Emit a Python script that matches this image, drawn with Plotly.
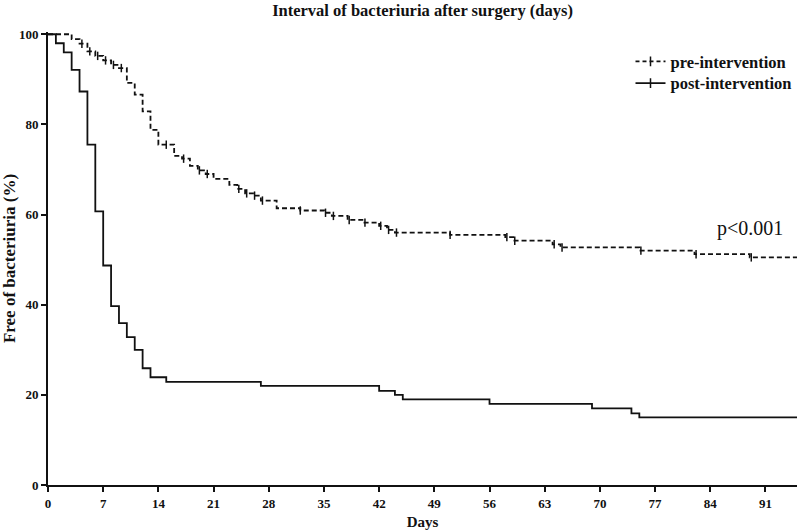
import plotly.graph_objects as go

# Kaplan-Meier style step data (days, % free of bacteriuria)
pre_days = [0, 3, 4, 5, 6, 7, 8, 9, 10, 11, 12, 13, 14, 16, 17, 18, 19, 20, 21, 23, 24, 25, 26, 27,
            29, 32, 35, 36, 38, 40, 42, 43, 44, 51, 58, 59, 64, 65, 75, 82, 89, 95]
pre_vals = [100, 98.9, 97.9, 96.2, 95.2, 94.2, 93.2, 92.5, 89.2, 86.6, 82.9, 78.8, 75.5, 73.0, 72.4,
            70.8, 69.8, 69.0, 67.9, 66.6, 65.7, 64.7, 64.2, 63.1, 61.4, 60.9, 60.4, 59.7, 58.8, 58.2,
            57.5, 56.6, 56.0, 55.5, 55.0, 54.2, 53.4, 52.7, 52.0, 51.2, 50.5, 50.5]

post_days = [0, 1, 2, 3, 4, 5, 6, 7, 8, 9, 10, 11, 12, 13, 15, 27, 42, 44, 45, 56, 69, 74, 75, 95]
post_vals = [100, 98.0, 96.0, 92.1, 87.3, 75.5, 60.7, 48.7, 39.7, 35.9, 32.8, 30.0, 25.9, 23.9,
             22.9, 22.0, 20.9, 20.0, 19.0, 18.0, 17.0, 15.9, 15.0, 15.0]

# censoring marks on the pre-intervention curve
pre_censor_days = [4.3, 5.3, 6.3, 7.3, 8.3, 9.3, 15.0, 17.2, 19.2, 20.2, 24.2, 25.2, 26.2, 27.2,
                   32.0, 35.2, 36.2, 38.2, 40.2, 42.2, 43.2, 44.2, 51.0, 58.2, 59.2, 64.2, 65.2,
                   75.2, 82.2, 89.2]

x_ticks = [0, 7, 14, 21, 28, 35, 42, 49, 56, 63, 70, 77, 84, 91]
y_ticks = [0, 20, 40, 60, 80, 100]

title_text = "Interval of bacteriuria after surgery (days)"
x_title = "Days"
y_title = "Free of bacteriuria (%)"
names = ["pre-intervention", "post-intervention"]
p_text = "p<0.001"


def step_value(days, vals, d):
    v = vals[0]
    for dd, vv in zip(days, vals):
        if dd <= d:
            v = vv
    return v


pre_censor_vals = [step_value(pre_days, pre_vals, d) for d in pre_censor_days]

INK = "#111111"
FONT = "Liberation Serif"

fig = go.Figure()
fig.add_trace(go.Scatter(x=pre_days, y=pre_vals, mode="lines", line_shape="hv",
                         line=dict(color=INK, width=1.8, dash="5px,3px"), showlegend=False,
                         hoverinfo="skip"))
fig.add_trace(go.Scatter(x=pre_censor_days, y=pre_censor_vals, mode="markers",
                         marker=dict(symbol="line-ns", size=6, line=dict(color=INK, width=1.5)),
                         showlegend=False, hoverinfo="skip"))
fig.add_trace(go.Scatter(x=post_days, y=post_vals, mode="lines", line_shape="hv",
                         line=dict(color=INK, width=1.8), showlegend=False, hoverinfo="skip"))

# legend entries (one legend each, to place them precisely)
fig.add_trace(go.Scatter(x=[None], y=[None], mode="lines+markers", name=names[0], legend="legend",
                         line=dict(color=INK, width=1.8, dash="4px,3px"),
                         marker=dict(symbol="line-ns", size=7, line=dict(color=INK, width=1.5))))
fig.add_trace(go.Scatter(x=[None], y=[None], mode="lines+markers", name=names[1], legend="legend2",
                         line=dict(color=INK, width=1.8),
                         marker=dict(symbol="line-ns", size=7, line=dict(color=INK, width=1.5))))

fig.add_annotation(text=p_text, xref="paper", yref="paper", x=0.937, y=0.567,
                   showarrow=False, font=dict(family=FONT, size=20, color=INK),
                   xanchor="center", yanchor="middle")

axis_common = dict(showline=True, linecolor=INK, linewidth=2, ticks="outside", ticklen=5,
                   tickwidth=1.5, tickcolor=INK, showgrid=False, zeroline=False,
                   automargin=False,
                   tickfont=dict(family=FONT, size=13, color=INK, weight="bold"))

legend_common = dict(xanchor="left", yanchor="middle", bgcolor="rgba(0,0,0,0)",
                     font=dict(family=FONT, size=16.5, color=INK, weight="bold"),
                     itemwidth=30, borderwidth=0)

fig.update_layout(
    template="none",
    width=800, height=530,
    margin=dict(l=48, r=3, t=32, b=45, autoexpand=False),
    paper_bgcolor="white", plot_bgcolor="white",
    font=dict(family=FONT, color=INK),
    title=dict(text=title_text, x=0.5, xref="paper", xanchor="center",
               y=1 - 10 / 530, yref="container", yanchor="middle",
               font=dict(family=FONT, size=16.5, color=INK, weight="bold")),
    xaxis=dict(range=[0, 95], tickvals=x_ticks, ticktext=[str(t) for t in x_ticks],
               title=dict(text=x_title, standoff=8,
                          font=dict(family=FONT, size=15, color=INK, weight="bold")),
               **axis_common),
    yaxis=dict(range=[0, 100.5], tickvals=y_ticks, ticktext=[str(t) for t in y_ticks],
               title=dict(text=y_title, standoff=9,
                          font=dict(family=FONT, size=17, color=INK, weight="bold")),
               **axis_common),
    legend=dict(x=0.7777, y=(485 - 61.7) / 453, **legend_common),
    legend2=dict(x=0.7777, y=(485 - 83.3) / 453, **legend_common),
)

# remove the default 8px page margin so the figure fills the window exactly
fig.write_html("out.html", config={"displayModeBar": False},
               post_script="document.body.style.margin='0';")
